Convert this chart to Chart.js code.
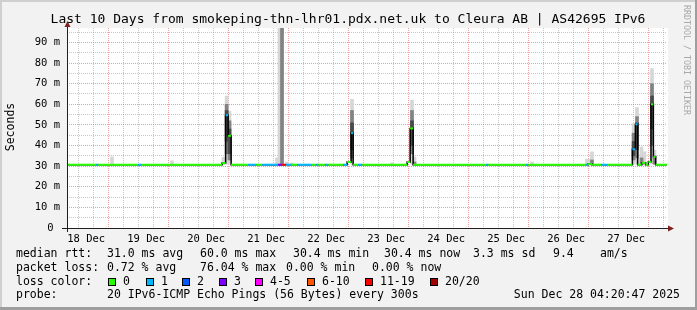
<!DOCTYPE html>
<html>
<head>
<meta charset="utf-8">
<script src="https://cdn.jsdelivr.net/npm/chart.js@4.4.1/dist/chart.umd.min.js"></script>
<style>
  html, body { margin: 0; padding: 0; background: #f2f2f2; }
  canvas { display: block; }
</style>
</head>
<body>
<canvas id="smokeChart" width="697" height="310"></canvas>
<script>
// x is hours since 18 Dec 00:00, graph ends Sun Dec 28 04:20:47
const startHour = 4.35;
const endHour = 244.35;
const dayLabels = ['18 Dec', '19 Dec', '20 Dec', '21 Dec', '22 Dec', '23 Dec', '24 Dec', '25 Dec', '26 Dec', '27 Dec'];
const yTicks = [0, 5, 10, 15, 20, 25, 30, 35, 40, 45, 50, 55, 60, 65, 70, 75, 80, 85, 90, 95];

// median rtt (ms), each value holds from its time until the next one
const medTimes = [
    4.35, 16.0, 16.8, 32.8, 34.0,
    66.4, 67.8, 68.8, 70.0,
    76.8, 80.0, 82.4, 88.8, 90.0, 92.0, 94.0, 96.4, 102.0, 104.0, 104.8, 107.6, 108.8,
    114.8, 116.4, 118.0, 118.8, 120.8, 122.4,
    140.4, 141.6, 142.8,
    172.0, 172.8, 188.0, 188.8, 212.0, 212.8, 214.4, 218.0, 220.4,
    230.5, 231.7, 232.6, 234.2, 235.8, 236.9, 237.95, 238.9, 239.8
];
const medValues = [
    30.7, 30.7, 30.7, 30.7, 30.7,
    31.5, 54.7, 44.7, 30.7,
    30.7, 30.7, 30.7, 30.7, 30.7, 30.7, 30.7, 30.7, 30.7, 30.7, 30.7, 30.7, 30.7,
    30.7, 32.0, 46.0, 30.7, 30.7, 30.7,
    32.0, 48.3, 30.7,
    30.7, 30.7, 30.7, 30.7, 30.7, 31.0, 30.7, 30.7, 30.7,
    38.2, 50.3, 30.7, 31.6, 30.7, 32.1, 60.0, 34.5, 30.7
];
// index into lossColors
const medLoss = [
    0, 1, 0, 1, 0,
    0, 1, 0, 0,
    1, 0, 1, 3, 6, 1, 0, 1, 0, 1, 0, 1, 0,
    1, 0, 1, 0, 1, 0,
    0, 0, 0,
    1, 0, 1, 0, 1, 0, 0, 1, 0,
    1, 1, 0, 0, 0, 0, 0, 0, 0
];

// smoke columns: full ping range, middle band, core band (ms)
const smokeTimes = [22.35, 46.35, 66.95, 68.2, 69.35, 88.35, 89.35, 90.35, 92.35, 94.35, 118.35, 134.35,
    142.35, 143.35, 190.35, 212.35, 213.55, 214.35, 231.0, 232.35, 234.15, 235.35, 238.35, 239.35];
const smokeMin = [30.6, 30.6, 30.6, 31, 31, 30.6, 30.6, 30.6, 30.6, 30.6, 31, 30.6,
    31, 30.6, 30.6, 30.6, 30.6, 30.6, 31, 31, 30.6, 30.6, 31, 31];
const smokeMax = [34.5, 32.6, 34.3, 64, 56.6, 34, 100, 100, 32, 31.6, 62.4, 31.6,
    62, 34.5, 32, 33.4, 33.4, 36.9, 50.6, 58.4, 39.3, 37, 77.3, 37.7];
const midLow = [null, null, null, 36, 33, null, null, 30.6, null, null, 34, null,
    36, 30.6, null, null, null, 30.6, 33, 34, 30.6, null, 40, 31];
const midHigh = [null, null, null, 60, 52, null, null, 100, null, null, 57, null,
    57, 32, null, null, null, 33, 46, 54, 34, null, 70, 35];
const coreLow = [null, null, null, 42, 36, null, null, null, null, null, 38, null,
    40, null, null, null, null, null, 35, 38, null, null, 48, null];
const coreHigh = [null, null, null, 57, 48, null, null, null, null, null, 51, null,
    52, null, null, null, null, null, 42, 51, null, null, 64, null];

const lossLabels = ['0', '1', '2', '3', '4-5', '6-10', '11-19', '20/20'];
const lossColors = ['#26ff00', '#00b8ff', '#0059ff', '#7e00ff', '#ff00ff', '#ff5500', '#ff0000', '#a10000'];

const minorGrid = 'rgba(143,143,143,0.5)';
const majorGrid = 'rgba(222,79,79,0.55)';
const mono = '"DejaVu Sans Mono", monospace';

function bandData(lo, hi) {
    const out = [];
    smokeTimes.forEach((t, i) => {
        if (lo[i] !== null && hi[i] !== null) out.push({x: t, y: [lo[i], hi[i]]});
    });
    return out;
}

// black median trace
const medLine = medTimes.map((t, i) => ({x: t, y: medValues[i]}));
medLine.push({x: endHour, y: medValues[medValues.length - 1]});

// coloured flat pieces, broken by nulls
const lossPieces = [];
const pieceLoss = [];
medTimes.forEach((t, i) => {
    const tEnd = i + 1 < medTimes.length ? medTimes[i + 1] : endHour;
    lossPieces.push({x: t, y: medValues[i]}, {x: tEnd, y: medValues[i]}, {x: tEnd, y: null});
    pieceLoss.push(medLoss[i], medLoss[i], medLoss[i]);
});

const rrdDecor = {
    id: 'rrdDecor',
    beforeDraw(chart) {
        const {ctx, chartArea: a} = chart;
        ctx.save();
        ctx.fillStyle = '#f2f2f2';
        ctx.fillRect(0, 0, chart.width, chart.height);
        ctx.fillStyle = '#ffffff';
        ctx.fillRect(a.left, a.top, a.right - a.left + 1, a.bottom - a.top);
        ctx.restore();
    },
    afterDraw(chart) {
        const {ctx, chartArea: a} = chart;
        const W = chart.width, H = chart.height;
        ctx.save();

        // axes and arrows
        ctx.strokeStyle = '#1f1f1f';
        ctx.lineWidth = 1;
        ctx.beginPath();
        ctx.moveTo(a.left - 5, a.bottom + 0.5);
        ctx.lineTo(a.right + 2, a.bottom + 0.5);
        ctx.moveTo(a.left + 0.5, a.bottom + 4);
        ctx.lineTo(a.left + 0.5, a.top - 2);
        ctx.stroke();
        ctx.fillStyle = '#801f1f';
        ctx.beginPath();
        ctx.moveTo(a.right + 7, a.bottom + 0.5);
        ctx.lineTo(a.right + 1, a.bottom - 2.5);
        ctx.lineTo(a.right + 1, a.bottom + 3.5);
        ctx.fill();
        ctx.beginPath();
        ctx.moveTo(a.left + 0.5, a.top - 7);
        ctx.lineTo(a.left - 2.5, a.top - 1);
        ctx.lineTo(a.left + 3.5, a.top - 1);
        ctx.fill();

        // title
        ctx.fillStyle = '#000';
        ctx.font = '13px ' + mono;
        ctx.textAlign = 'center';
        ctx.textBaseline = 'alphabetic';
        ctx.fillText('Last 10 Days from smokeping-thn-lhr01.pdx.net.uk to Cleura AB | AS42695 IPv6', 348, 23);

        // y title
        ctx.save();
        ctx.translate(11, 127);
        ctx.rotate(-Math.PI / 2);
        ctx.font = '11.5px ' + mono;
        ctx.textBaseline = 'middle';
        ctx.fillText('Seconds', 0, 0);
        ctx.restore();

        // watermark
        ctx.save();
        ctx.translate(686.5, 5);
        ctx.rotate(Math.PI / 2);
        ctx.font = '8.3px ' + mono;
        ctx.fillStyle = '#a8a8a8';
        ctx.textAlign = 'left';
        ctx.textBaseline = 'middle';
        ctx.fillText('RRDTOOL / TOBI OETIKER', 0, 0);
        ctx.restore();

        // legend
        ctx.font = '11.5px ' + mono;
        ctx.textAlign = 'left';
        ctx.fillStyle = '#000';
        const put = (s, x, y) => ctx.fillText(s, x, y);
        put('median rtt:', 16, 257);
        put('31.0 ms avg', 107, 257);
        put('60.0 ms max', 200, 257);
        put('30.4 ms min', 293, 257);
        put('30.4 ms now', 384, 257);
        put('3.3 ms sd', 473, 257);
        put('9.4', 553, 257);
        put('am/s', 600, 257);

        put('packet loss:', 16, 271);
        put('0.72 % avg', 107, 271);
        put('76.04 % max', 200, 271);
        put('0.00 % min', 286, 271);
        put('0.00 % now', 372, 271);

        put('loss color:', 16, 285);
        const boxX = [108, 146, 182, 219, 255, 307, 365, 430];
        lossLabels.forEach((lbl, i) => {
            ctx.fillStyle = lossColors[i];
            ctx.fillRect(boxX[i], 278, 8, 8);
            ctx.strokeStyle = '#000';
            ctx.strokeRect(boxX[i] + 0.5, 278.5, 7, 7);
            ctx.fillStyle = '#000';
            put(lbl, boxX[i] + 15, 285);
        });

        put('probe:', 16, 298);
        put('20 IPv6-ICMP Echo Pings (56 Bytes) every 300s', 107, 298);
        ctx.textAlign = 'right';
        put('Sun Dec 28 04:20:47 2025', 680, 298);

        // frame
        ctx.fillStyle = '#cfcfcf';
        ctx.fillRect(0, 0, W, 2);
        ctx.fillRect(0, 0, 2, H);
        ctx.fillStyle = '#9e9e9e';
        ctx.fillRect(0, H - 3, W, 3);
        ctx.fillRect(W - 2, 0, 2, H);
        ctx.restore();
    }
};

const ctx = document.getElementById('smokeChart');
new Chart(ctx, {
    type: 'line',
    data: {
        datasets: [
            {
                type: 'line',
                data: lossPieces,
                borderWidth: 2,
                borderCapStyle: 'butt',
                pointRadius: 0,
                spanGaps: false,
                segment: {
                    borderColor: c => lossColors[pieceLoss[c.p0DataIndex]]
                },
                order: 0
            },
            {
                type: 'line',
                data: medLine,
                stepped: 'before',
                borderColor: '#000000',
                borderWidth: 1.5,
                pointRadius: 0,
                order: 1
            },
            {
                type: 'bar',
                data: bandData(coreLow, coreHigh),
                backgroundColor: '#4a4a4a',
                barThickness: 3,
                grouped: false,
                order: 2
            },
            {
                type: 'bar',
                data: bandData(midLow, midHigh),
                backgroundColor: '#828282',
                barThickness: 3,
                grouped: false,
                order: 3
            },
            {
                type: 'bar',
                data: bandData(smokeMin, smokeMax),
                backgroundColor: '#d6d6d6',
                barThickness: 3,
                grouped: false,
                order: 4
            }
        ]
    },
    options: {
        responsive: false,
        animation: false,
        devicePixelRatio: 1,
        layout: { padding: { top: 28, right: 30, left: 0, bottom: 0 } },
        plugins: {
            legend: { display: false },
            tooltip: { enabled: false }
        },
        scales: {
            x: {
                type: 'linear',
                min: startHour,
                max: endHour,
                offset: false,
                afterFit: s => { s.height = 82; },
                afterBuildTicks: s => {
                    const t = [];
                    for (let h = 6; h < endHour; h += 6) t.push({value: h});
                    s.ticks = t;
                },
                grid: {
                    color: c => (c.tick && c.tick.value % 24 === 0) ? majorGrid : minorGrid,
                    lineWidth: 1,
                    drawTicks: false
                },
                border: { display: false, dash: [1, 1] },
                ticks: {
                    autoSkip: false,
                    maxRotation: 0,
                    padding: 5,
                    color: '#000',
                    font: { family: mono, size: 10.5 },
                    callback: v => v % 24 === 12 ? dayLabels[(v - 12) / 24] : ''
                }
            },
            y: {
                type: 'linear',
                min: 0,
                max: 97,
                afterFit: s => { s.width = 67; },
                afterBuildTicks: s => { s.ticks = yTicks.map(v => ({value: v})); },
                grid: {
                    color: c => (c.tick && c.tick.value % 10 === 0) ? majorGrid : minorGrid,
                    lineWidth: 1,
                    drawTicks: false
                },
                border: { display: false, dash: [1, 1] },
                ticks: {
                    autoSkip: false,
                    padding: 7,
                    color: '#000',
                    font: { family: mono, size: 10.5 },
                    callback: v => v % 10 !== 0 ? '' : (v === 0 ? '0 ' : v + ' m')
                }
            }
        }
    },
    plugins: [rrdDecor]
});
</script>
</body>
</html>
